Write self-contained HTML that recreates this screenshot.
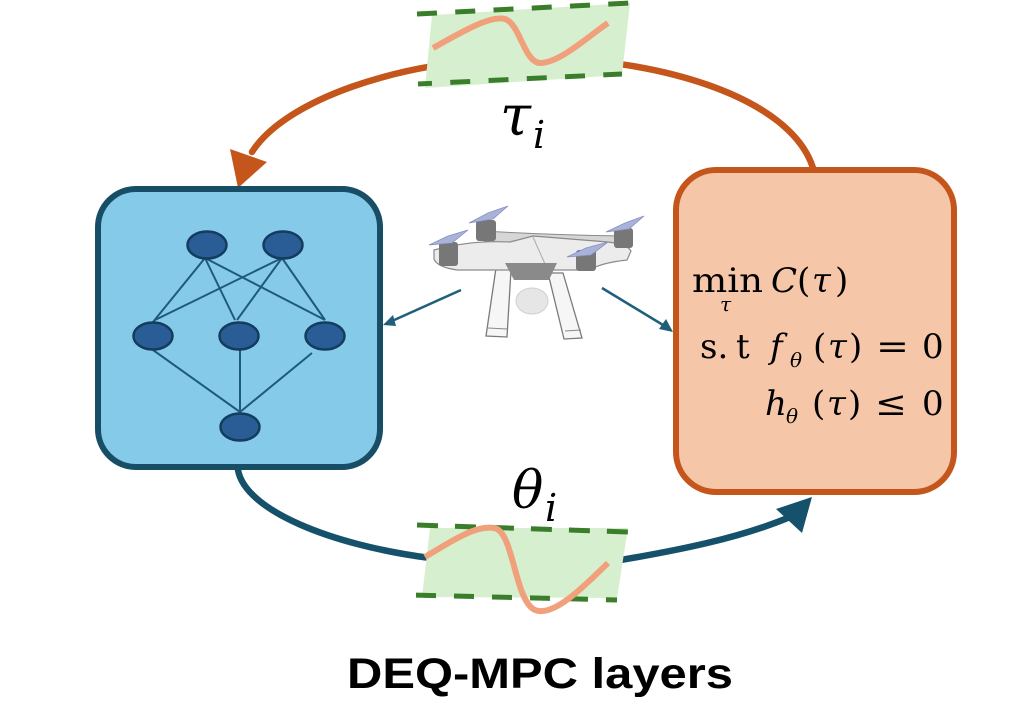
<!DOCTYPE html>
<html>
<head>
<meta charset="utf-8">
<style>
html,body{margin:0;padding:0;background:#fff;}
svg{display:block;}
</style>
</head>
<body>
<svg width="1031" height="717" viewBox="0 0 1031 717" xmlns="http://www.w3.org/2000/svg">
  <rect x="0" y="0" width="1031" height="717" fill="#ffffff"/>

  <!-- Top orange arc -->
  <path d="M 813 168 C 790 95 650 55 520 58 C 400 60 285 100 252 152" fill="none" stroke="#C5561B" stroke-width="6.5" stroke-linecap="round"/>
  <polygon points="238,188 230,149 267,162" fill="#C5561B"/>

  <!-- Bottom blue arc -->
  <path d="M 238 470 C 245 510 330 545 430 558" fill="none" stroke="#15516B" stroke-width="6.5" stroke-linecap="round"/>
  <path d="M 615 561 C 680 550 740 538 790 517" fill="none" stroke="#15516B" stroke-width="6.5" stroke-linecap="round"/>
  <polygon points="812,497 776,509 802,533" fill="#15516B"/>

  <!-- Top green parallelogram (tau) -->
  <polygon points="432,15 630,3 622,75 425,88" fill="#D6F0CF"/>
  <line x1="417" y1="14" x2="630" y2="3" stroke="#3A7D2A" stroke-width="5" stroke-dasharray="20 18.3"/>
  <line x1="418" y1="84" x2="622" y2="74" stroke="#3A7D2A" stroke-width="5" stroke-dasharray="20 18.3" stroke-dashoffset="6"/>
  <path d="M 433 48 C 460 33 490 15 505 19 C 520 24 524 62 540 63 C 560 63 590 35 608 23" fill="none" stroke="#F1A07C" stroke-width="6"/>

  <!-- Bottom green parallelogram (theta) -->
  <polygon points="430,528 628,528 617,598 422,597" fill="#D6F0CF"/>
  <line x1="417" y1="525" x2="628" y2="532" stroke="#3A7D2A" stroke-width="5" stroke-dasharray="21 17"/>
  <line x1="412" y1="595" x2="617" y2="600" stroke="#3A7D2A" stroke-width="5" stroke-dasharray="20 18" stroke-dashoffset="-4"/>
  <path d="M 425 557 C 450 542 475 525 494 528 C 514 531 514 600 535 610 C 555 618 590 580 608 563" fill="none" stroke="#F1A07C" stroke-width="6"/>

  <!-- Labels tau_i, theta_i -->
  <text x="500" y="135" font-family="'DejaVu Serif', serif" font-style="italic" font-size="56" fill="#000">τ</text>
  <text x="533" y="148" font-family="'DejaVu Serif', serif" font-style="italic" font-size="38" fill="#000">i</text>
  <text x="512" y="508" font-family="'DejaVu Serif', serif" font-style="italic" font-size="52" fill="#000">θ</text>
  <text x="545" y="521" font-family="'DejaVu Serif', serif" font-style="italic" font-size="38" fill="#000">i</text>

  <!-- Left box -->
  <rect x="98" y="189" width="282" height="278" rx="38" ry="38" fill="#86CAEA" stroke="#174E66" stroke-width="6"/>
  <g stroke="#1F5A78" stroke-width="2" fill="none">
    <line x1="205" y1="258" x2="153" y2="322"/>
    <line x1="205" y1="258" x2="235" y2="320"/>
    <line x1="205" y1="258" x2="325" y2="320"/>
    <line x1="282" y1="258" x2="155" y2="320"/>
    <line x1="282" y1="258" x2="237" y2="320"/>
    <line x1="282" y1="258" x2="325" y2="320"/>
    <line x1="153" y1="350" x2="240" y2="412"/>
    <line x1="240" y1="350" x2="240" y2="412"/>
    <line x1="312" y1="353" x2="240" y2="412"/>
  </g>
  <g fill="#2A5C96" stroke="#143C5E" stroke-width="2.5">
    <ellipse cx="207" cy="245" rx="19.5" ry="13.5"/>
    <ellipse cx="283" cy="245" rx="19.5" ry="13.5"/>
    <ellipse cx="153" cy="336" rx="19.5" ry="13.5"/>
    <ellipse cx="239" cy="336" rx="19.5" ry="13.5"/>
    <ellipse cx="325" cy="336" rx="19.5" ry="13.5"/>
    <ellipse cx="240" cy="427" rx="19.5" ry="13.5"/>
  </g>

  <!-- Right box -->
  <rect x="676" y="170" width="278" height="322" rx="40" ry="40" fill="#F6C6A9" stroke="#C5561B" stroke-width="6"/>
  <g font-family="'DejaVu Serif', serif" fill="#000" font-size="34">
    <!-- line 1 -->
    <text x="692" y="292" textLength="71" lengthAdjust="spacingAndGlyphs">min</text>
    <text x="720" y="311" font-size="20" font-style="italic">τ</text>
    <text x="771" y="292" font-style="italic">C</text>
    <text x="797" y="292">(</text>
    <text x="812" y="292" font-style="italic">τ</text>
    <text x="835" y="292">)</text>
    <!-- line 2 -->
    <text x="700" y="358">s.</text>
    <text x="736" y="358">t</text>
    <text x="770" y="358" font-style="italic">f</text>
    <text x="790" y="367" font-size="20" font-style="italic">θ</text>
    <text x="813" y="358">(</text>
    <text x="828" y="358" font-style="italic">τ</text>
    <text x="849" y="358">)</text>
    <text x="876" y="358" textLength="33" lengthAdjust="spacingAndGlyphs">=</text>
    <text x="922" y="358">0</text>
    <!-- line 3 -->
    <text x="765" y="415" font-style="italic">h</text>
    <text x="786" y="423" font-size="20" font-style="italic">θ</text>
    <text x="812" y="415">(</text>
    <text x="827" y="415" font-style="italic">τ</text>
    <text x="848" y="415">)</text>
    <text x="875" y="415" textLength="32" lengthAdjust="spacingAndGlyphs">≤</text>
    <text x="922" y="415">0</text>
  </g>

  <!-- Drone arrows -->
  <line x1="461" y1="290" x2="392" y2="321" stroke="#1F5F7A" stroke-width="2.5"/>
  <polygon points="383,325 393,315 396,326" fill="#1F5F7A"/>
  <line x1="602" y1="288" x2="663" y2="325" stroke="#1F5F7A" stroke-width="2.5"/>
  <polygon points="673,332 659,329 666,319" fill="#1F5F7A"/>

  <!-- Drone -->
  <g>
    <polygon points="496,268 511,270 507,337 486,336" fill="#f6f6f6" stroke="#7a7a7a" stroke-width="1.3"/>
    <polygon points="548,273 563,273 582,338 564,339" fill="#f6f6f6" stroke="#7a7a7a" stroke-width="1.3"/>
    <line x1="488" y1="328" x2="507" y2="329" stroke="#888" stroke-width="1"/>
    <line x1="565" y1="331" x2="581" y2="330" stroke="#888" stroke-width="1"/>
    <ellipse cx="532" cy="301" rx="16" ry="13" fill="#e6e6e6" stroke="#cfcfcf" stroke-width="1"/>
    <path d="M 484 231 Q 550 235 624 236 L 624 247 Q 550 247 484 241 Z" fill="#d6d6d6" stroke="#8a8a8a" stroke-width="1"/>
    <path d="M 434 250 Q 470 240 510 242 L 533 236 L 608 242 Q 627 244 631 251 L 627 260 Q 600 263 590 270 L 548 270 Q 530 274 514 270 L 457 270 Q 437 267 434 259 Z" fill="#ececec" stroke="#8a8a8a" stroke-width="1.2"/>
    <path d="M 533 237 L 545 264" stroke="#aaa" stroke-width="1" fill="none"/>
    <polygon points="505,263 557,263 549,280 514,280" fill="#8a8a8a"/>
    <rect x="439" y="242" width="19" height="24" rx="3" fill="#777"/>
    <rect x="476" y="220" width="20" height="21" rx="3" fill="#777"/>
    <rect x="614" y="228" width="19" height="20" rx="3" fill="#777"/>
    <rect x="576" y="250" width="20" height="21" rx="3" fill="#777"/>
    <g fill="#A9B3DA" stroke="#8690bd" stroke-width="0.8">
      <path d="M 469 223 L 488 213 L 508 206 L 493 219 Z"/>
      <path d="M 429 245 L 448 236 L 468 230 L 452 243 Z"/>
      <path d="M 606 232 L 625 223 L 644 216 L 629 229 Z"/>
      <path d="M 567 257 L 586 248 L 608 242 L 591 255 Z"/>
    </g>
  </g>

  <!-- Caption -->
  <text x="347" y="688" font-family="'Liberation Sans', sans-serif" font-weight="bold" font-size="43" textLength="386" lengthAdjust="spacingAndGlyphs" fill="#000">DEQ-MPC layers</text>
</svg>
</body>
</html>
